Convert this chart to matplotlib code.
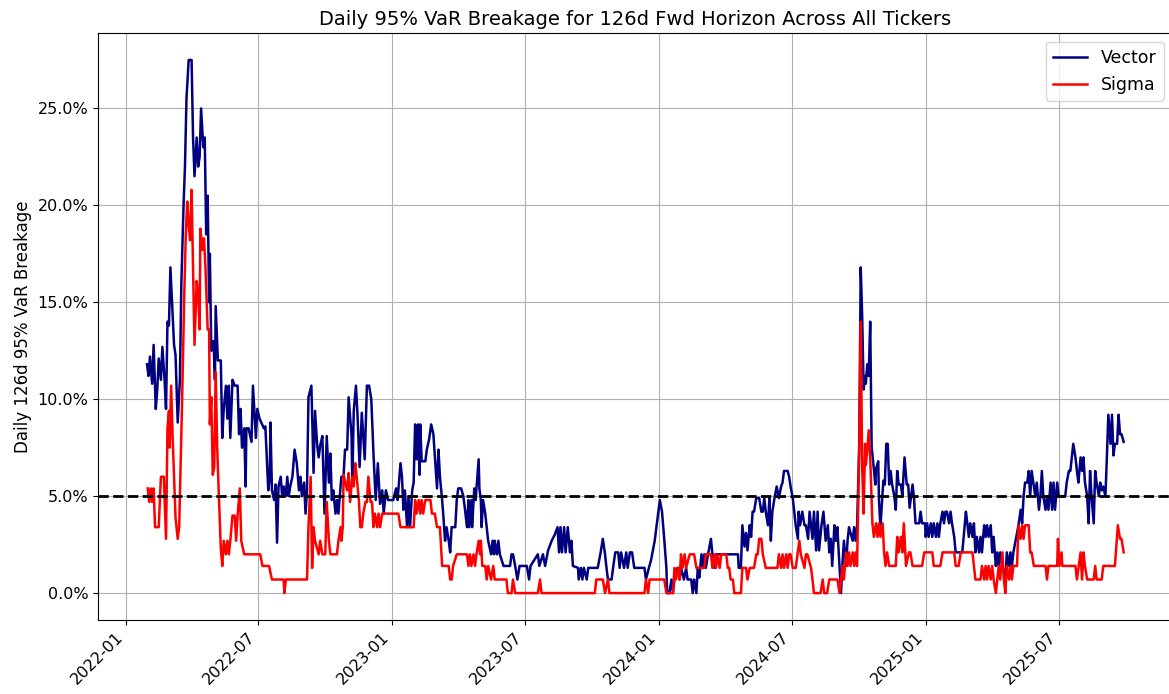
import matplotlib.pyplot as plt
import matplotlib.dates as mdates
from matplotlib.ticker import PercentFormatter
import pandas as pd

# x data: days since 2022-01-01, y data: breakage rate in %
vector_days = [
    29, 31, 33, 36, 38, 41, 43, 45, 48, 50, 53, 55, 57, 59, 61, 66, 68, 71, 74, 76,
    79, 81, 83, 86, 90, 92, 94, 97, 99, 101, 103, 106, 108, 110, 112, 114, 115, 117, 120, 122,
    123, 126, 130, 132, 134, 137, 139, 141, 143, 146, 149, 153, 155, 157, 159, 162, 164, 165, 168, 172,
    174, 178, 180, 183, 189, 191,
    195, 197, 198, 200, 203, 205, 207, 209, 212, 214, 216, 219, 221, 223, 225, 228, 231, 234, 237, 239,
    241, 244, 246, 248, 250, 254, 257, 259, 262, 264, 266, 269, 272, 275, 278, 280, 282, 284, 287, 289,
    291, 295, 298, 300, 303, 305, 309, 310, 312, 315, 317, 320, 323, 327, 330, 333, 336, 339, 342, 345,
    348, 351, 353, 356, 359, 366, 370, 372, 376, 378, 380, 382, 385, 387,
    389, 392, 394, 396, 398, 400, 402, 403, 405, 410, 412, 415, 418, 421, 424, 426, 428, 430, 433, 435,
    437, 439, 442, 444, 446, 451, 453, 455, 459, 462, 464, 467, 469, 470, 473, 474, 477, 479, 480, 483,
    484, 486, 487, 489, 492, 494, 496, 500, 502, 504, 505, 508, 510, 512, 517, 526, 528, 530, 533, 536,
    539, 549, 552, 554, 564, 566, 571, 574,
    578, 583, 587, 591, 593, 595, 597, 600, 602, 605, 608, 610, 612, 619, 620, 623, 625, 627, 631, 633,
    646, 650, 653, 656, 658, 660, 665, 667, 670, 674, 676, 678, 682, 685, 687, 690, 693, 696, 710, 712,
    716, 719, 724, 728, 731, 734, 737, 740, 741, 744, 747, 749, 751, 755, 758, 760, 764, 767, 769, 774,
    776, 778, 781, 783, 785, 788, 790, 792, 794, 797, 801, 803, 806, 808, 838, 839, 842, 844, 847, 849,
    851, 854, 856, 858, 860, 863, 867, 870, 872, 874, 876, 879, 881, 883, 885, 888, 891, 894, 897, 899,
    901, 906, 908, 910, 913, 915, 917, 920, 921, 923, 926, 929, 931, 934, 936, 938, 940, 942, 945, 947,
    949, 952, 955, 958, 961, 963, 965, 967, 970,
    972, 974, 977, 979, 981, 983, 986, 988, 990, 995, 997, 999, 1001, 1004, 1006, 1008, 1010, 1012, 1013, 1015,
    1017, 1019, 1021, 1023, 1026, 1027, 1030, 1031, 1033, 1035, 1037, 1039, 1041, 1043, 1045, 1047, 1049, 1052, 1054, 1056,
    1058, 1061, 1063, 1066, 1069, 1071, 1073, 1075, 1077, 1079, 1081, 1086, 1088, 1090, 1094, 1095, 1097, 1099, 1102, 1104,
    1106, 1109, 1111, 1113, 1115, 1118, 1120, 1122, 1124, 1127, 1129, 1131, 1134, 1136, 1145, 1147, 1150, 1152, 1154, 1156,
    1159, 1161, 1163, 1165, 1168, 1170,
    1172, 1175, 1177, 1179, 1181, 1184, 1186, 1188, 1191, 1193, 1195, 1197, 1200, 1202, 1204, 1206, 1209, 1211, 1213, 1215,
    1218, 1220, 1222, 1225, 1227, 1229, 1231, 1234, 1236, 1238, 1240, 1243, 1245, 1247, 1250, 1252, 1254, 1256, 1259, 1261,
    1263, 1266, 1268, 1270, 1272, 1275, 1277, 1286, 1288, 1291, 1293, 1295, 1297, 1300, 1302, 1304, 1307, 1309, 1311, 1313,
    1316, 1318, 1320, 1322, 1325, 1327, 1329, 1332, 1334, 1336, 1338, 1341, 1343, 1345, 1348, 1350, 1352, 1354, 1357, 1359,
    1361, 1363, 1366,
]
vector_pct = [
    11.8, 11.2, 12.2, 10.8, 12.8, 9.5, 10.5, 12.1, 11.0, 12.7, 11.0, 9.5, 14.0, 13.8, 16.8, 12.8, 12.3, 8.8, 11.0, 16.0,
    20.0, 22.1, 25.5, 27.5, 27.5, 23.5, 21.5, 23.5, 22.0, 22.5, 25.0, 23.0, 23.5, 18.5, 20.5, 15.0, 17.5, 12.5, 13.0, 11.0,
    14.8, 12.0, 12.0, 8.0, 9.5, 10.7, 9.0, 10.7, 8.0, 11.0, 10.7, 10.7, 8.2, 9.5, 7.5, 8.5, 5.5, 8.5, 8.5, 7.8,
    10.7, 8.0, 9.5, 9.0, 8.5, 8.6,
    5.3, 6.0, 8.8, 5.3, 4.8, 5.6, 2.6, 5.5, 6.0, 5.0, 5.5, 5.0, 6.0, 5.0, 5.5, 6.0, 7.4, 6.7, 5.3, 6.0,
    5.0, 5.7, 4.1, 5.3, 10.1, 10.7, 6.2, 9.4, 7.6, 7.0, 7.6, 8.1, 4.1, 8.1, 5.7, 7.2, 4.8, 5.3, 4.1, 4.8,
    4.1, 6.0, 6.0, 7.4, 7.4, 10.1, 8.1, 5.7, 9.4, 10.7, 9.3, 6.5, 9.3, 6.9, 10.7, 10.7, 10.0, 7.2, 4.8, 6.7,
    4.6, 5.3, 4.1, 5.3, 4.8, 4.8, 5.4, 4.8, 6.7, 6.0, 4.3, 5.3, 3.4, 5.0,
    3.4, 5.3, 5.7, 8.7, 6.9, 8.7, 6.1, 8.7, 6.8, 6.8, 7.4, 7.9, 8.7, 8.2, 6.5, 5.4, 7.4, 6.0, 4.8, 3.8,
    2.7, 3.4, 2.7, 2.1, 3.4, 3.4, 4.8, 5.4, 5.4, 5.0, 4.4, 3.4, 4.8, 3.4, 4.8, 3.4, 5.4, 4.8, 5.4, 6.9,
    5.4, 4.8, 3.4, 4.8, 4.1, 3.4, 2.7, 2.0, 2.7, 2.0, 2.7, 2.0, 2.7, 2.0, 1.4, 1.4, 2.0, 2.0, 1.4, 0.7,
    1.4, 1.4, 0.7, 1.4, 2.0, 1.4, 2.0, 1.4,
    2.2, 2.7, 3.0, 3.4, 2.1, 3.4, 2.1, 3.4, 2.1, 3.4, 2.1, 2.7, 1.4, 1.3, 0.7, 1.3, 0.7, 1.3, 0.7, 1.3,
    1.3, 2.1, 2.8, 2.0, 1.3, 0.7, 0.7, 1.3, 2.1, 2.1, 1.3, 2.1, 1.3, 2.1, 1.3, 2.1, 2.1, 1.3, 1.3, 0.7,
    1.3, 1.7, 2.7, 3.9, 4.8, 4.2, 2.8, 1.3, 0.0, 0.0, 0.7, 0.0, 0.7, 1.3, 0.7, 1.3, 0.7, 1.3, 0.7, 0.7,
    0.0, 0.7, 0.0, 1.3, 0.8, 2.0, 1.3, 2.0, 1.3, 2.0, 2.8, 2.0, 1.3, 2.0, 2.0, 1.3, 1.3, 3.5, 2.4, 3.1,
    2.2, 3.5, 2.9, 4.2, 4.2, 4.9, 4.9, 4.2, 4.2, 4.9, 4.2, 3.5, 4.9, 2.7, 4.2, 4.9, 5.5, 4.9, 5.5, 5.7,
    6.3, 6.3, 6.0, 5.5, 4.9, 4.2, 3.5, 2.8, 4.2, 3.5, 4.2, 3.5, 3.5, 2.8, 4.2, 3.5, 2.8, 4.2, 2.2, 4.2,
    2.2, 3.4, 4.2, 2.7, 3.5, 2.1, 2.8, 1.4, 3.5,
    2.7, 3.4, 1.4, 0.0, 1.5, 2.7, 1.4, 2.7, 3.4, 2.7, 3.4, 2.7, 3.4, 7.7, 16.8, 14.3, 10.5, 11.2, 10.8, 11.8,
    11.2, 14.0, 7.5, 6.8, 5.6, 6.4, 6.8, 4.8, 3.4, 4.6, 5.8, 5.6, 7.7, 7.7, 5.6, 6.3, 5.6, 5.0, 4.3, 6.3,
    5.6, 5.6, 5.0, 7.0, 5.6, 5.6, 4.4, 5.0, 5.6, 4.9, 3.6, 3.6, 4.2, 3.6, 3.6, 2.9, 3.6, 2.9, 3.6, 2.9,
    3.6, 2.9, 3.6, 2.9, 3.6, 4.2, 3.6, 4.2, 4.2, 3.6, 4.2, 3.6, 2.9, 2.1, 2.1, 2.9, 4.2, 3.6, 2.9, 3.6,
    2.9, 3.6, 2.1, 2.9, 2.1, 2.9,
    2.1, 3.5, 2.9, 3.5, 2.9, 3.5, 2.1, 2.9, 1.4, 2.1, 1.4, 2.1, 1.4, 1.1, 0.5, 2.1, 1.4, 2.1, 1.4, 2.1,
    2.7, 3.1, 3.5, 4.3, 3.6, 5.0, 5.7, 5.7, 6.3, 5.0, 6.3, 5.5, 5.0, 5.7, 4.3, 5.0, 6.3, 5.0, 4.3, 5.0,
    4.3, 5.7, 4.3, 5.7, 4.3, 5.7, 5.0, 5.0, 5.7, 6.3, 6.3, 7.0, 7.7, 7.0, 6.3, 5.7, 7.0, 6.3, 7.0, 5.7,
    5.0, 3.6, 6.3, 5.0, 3.6, 6.3, 5.7, 5.0, 5.7, 5.3, 5.5, 5.0, 7.0, 9.2, 7.7, 9.2, 7.1, 7.7, 7.7, 9.2,
    8.2, 8.2, 7.8,
]

sigma_days = [
    30, 32, 34, 36, 38, 40, 45, 48, 52, 55, 57, 59, 60, 62, 64, 66, 68, 71, 73, 75,
    77, 80, 82, 84, 86, 88, 90, 92, 94, 97, 99, 101, 102, 105, 107, 109, 112, 114, 115, 117,
    119, 121, 123, 125, 127, 130, 132, 134, 137, 139, 141, 143, 146, 149, 151, 153, 156, 158, 162, 184,
    187, 196,
    200, 216, 217, 219, 248, 250, 253, 255, 257, 259, 264, 266, 269, 273, 275, 278, 280, 289, 291, 294,
    295, 297, 298, 303, 305, 307, 310, 312, 314, 316, 319, 321, 323, 325, 328, 330, 332, 335, 337, 339,
    341, 344, 346, 348, 351, 373, 376,
    394, 396, 398, 401, 403, 405, 407, 410, 417, 419, 423, 426, 430, 433, 442, 444, 446, 448, 453, 467,
    469, 471, 473, 476, 478, 480, 483, 485, 486, 488, 492, 494, 496, 500, 503, 505, 521, 523, 528, 530,
    533, 564, 567, 569,
    642, 644, 653, 656, 660, 662, 710, 712, 715, 717, 737, 740, 749, 751, 753, 756, 758, 760, 762, 765,
    767, 772,
    778, 781, 792, 794, 801, 803, 806, 808, 810, 813, 815, 822, 824, 826, 828, 831, 833, 842, 844, 849,
    851, 854, 860, 863, 865, 867, 870, 872, 876, 892, 894, 897, 899, 901, 904, 906, 908, 910, 913, 917,
    922, 924, 929, 931, 933, 938, 940, 942, 951, 954, 956, 960, 963, 974,
    977, 979, 981, 983, 986, 988, 990, 992, 995, 997, 999, 1001, 1004, 1006, 1008, 1010, 1012, 1013, 1015, 1017,
    1019, 1022, 1024, 1027, 1029, 1031, 1033, 1036, 1038, 1040, 1042, 1045, 1054, 1056, 1058, 1061, 1063, 1065, 1068, 1072,
    1074, 1077, 1090, 1093, 1104, 1106, 1115, 1118, 1134, 1136, 1140, 1143, 1159, 1161, 1163, 1170,
    1172, 1175, 1177, 1179, 1181, 1184, 1186, 1188, 1191, 1193, 1195, 1197, 1200, 1202, 1204, 1206, 1209, 1211, 1213, 1215,
    1220, 1222, 1225, 1227, 1229, 1231, 1236, 1238, 1240, 1243, 1259, 1261, 1263, 1275, 1276, 1278, 1281, 1282, 1300, 1302,
    1307, 1309, 1311, 1313, 1316, 1325, 1327, 1329, 1336, 1338, 1354, 1358, 1361, 1363, 1366,
]
sigma_pct = [
    5.4, 4.7, 5.4, 4.7, 5.4, 3.4, 3.4, 6.0, 6.0, 2.8, 8.5, 9.4, 7.5, 10.7, 8.1, 6.0, 3.9, 2.8, 3.4, 6.7,
    9.9, 15.4, 18.4, 20.2, 19.0, 18.2, 20.8, 16.8, 12.8, 16.1, 15.4, 13.6, 18.8, 17.7, 18.3, 16.8, 13.6, 13.6, 8.7, 10.1,
    6.1, 6.5, 11.4, 7.6, 5.4, 2.3, 1.4, 2.7, 2.0, 2.7, 2.0, 2.7, 4.0, 4.0, 2.7, 4.0, 5.4, 2.7, 2.0, 2.0,
    1.4, 1.4,
    0.7, 0.7, 0.0, 0.7, 0.7, 3.4, 6.0, 1.3, 3.4, 2.7, 2.0, 2.7, 2.0, 2.0, 4.7, 2.7, 2.0, 2.0, 2.7, 3.4,
    2.7, 3.4, 6.1, 5.3, 6.2, 4.7, 6.0, 5.5, 6.7, 6.0, 4.8, 3.4, 3.4, 4.1, 4.7, 4.7, 6.0, 4.7, 4.7, 3.4,
    4.1, 3.4, 4.1, 3.4, 4.1, 4.1, 3.4,
    3.4, 4.8, 4.1, 4.8, 4.1, 4.8, 4.1, 4.8, 4.8, 4.1, 4.1, 3.4, 3.4, 1.4, 1.4, 0.7, 0.7, 1.4, 2.0, 2.0,
    1.4, 2.0, 1.4, 2.0, 1.4, 2.0, 2.7, 2.0, 2.7, 1.4, 1.4, 0.7, 1.4, 0.7, 1.4, 0.7, 0.7, 0.0, 0.0, 0.7,
    0.0, 0.0, 0.7, 0.0,
    0.0, 0.7, 0.7, 0.0, 0.7, 0.0, 0.0, 0.7, 0.0, 0.7, 0.7, 0.0, 0.0, 1.3, 0.7, 1.3, 0.7, 2.0, 1.3, 2.0,
    1.3, 2.0,
    2.0, 1.3, 1.3, 2.0, 2.0, 1.3, 2.0, 1.3, 2.0, 1.3, 2.0, 2.0, 1.3, 1.3, 0.7, 0.7, 0.0, 0.0, 1.3, 1.3,
    0.7, 1.3, 1.3, 2.0, 2.0, 2.8, 2.8, 2.0, 1.3, 1.3, 2.0, 1.3, 2.0, 1.3, 2.0, 1.3, 2.0, 2.0, 1.3, 1.3,
    2.7, 2.0, 1.3, 2.0, 2.0, 1.3, 0.7, 0.0, 0.0, 0.7, 0.0, 0.0, 0.7, 0.7,
    0.0, 0.7, 1.4, 0.7, 2.1, 1.4, 2.1, 1.4, 2.1, 1.4, 2.1, 1.4, 7.4, 14.0, 6.5, 4.1, 7.7, 6.6, 7.4, 8.4,
    7.0, 3.6, 2.9, 3.6, 2.9, 3.6, 2.9, 3.6, 2.1, 1.4, 2.1, 1.4, 1.4, 2.9, 2.1, 2.9, 2.1, 3.6, 1.4, 2.1,
    2.1, 1.4, 1.4, 2.1, 2.1, 1.4, 1.4, 2.1, 2.1, 1.4, 1.4, 2.1, 2.1, 1.4, 0.7, 0.7,
    1.4, 0.7, 1.4, 0.7, 1.4, 0.7, 1.4, 0.7, 0.0, 0.7, 1.4, 0.7, 2.1, 0.7, 0.0, 1.4, 0.7, 1.4, 0.7, 1.4,
    1.4, 3.5, 2.8, 3.5, 2.8, 3.5, 3.5, 2.1, 2.1, 1.4, 1.4, 0.7, 1.4, 1.4, 2.8, 1.4, 2.1, 1.4, 1.4, 0.7,
    2.1, 0.7, 2.1, 1.4, 0.7, 0.7, 1.4, 0.7, 0.7, 1.4, 1.4, 3.5, 2.8, 2.8, 2.1,
]

start = pd.Timestamp('2022-01-01')
vector_dates = start + pd.to_timedelta(vector_days, unit='D')
sigma_dates = start + pd.to_timedelta(sigma_days, unit='D')

fig, ax = plt.subplots(figsize=(11.69, 6.94), dpi=100)
# the reference is cropped slightly on the right, so the axes run past the edge
fig.subplots_adjust(left=0.084, right=1.003, top=0.952, bottom=0.107)

ax.plot(vector_dates, vector_pct, color='navy', lw=1.8, label='Vector')
ax.plot(sigma_dates, sigma_pct, color='red', lw=1.8, label='Sigma')
ax.axhline(5, color='black', ls='--', lw=2)

ax.yaxis.set_major_formatter(PercentFormatter(100, decimals=1))
ax.xaxis.set_major_locator(mdates.MonthLocator(bymonth=[1, 7]))
ax.xaxis.set_major_formatter(mdates.DateFormatter('%Y-%m'))
plt.setp(ax.get_xticklabels(), rotation=45, ha='right')

ax.set_title('Daily 95% VaR Breakage for 126d Fwd Horizon Across All Tickers', fontsize=14)
ax.set_ylabel('Daily 126d 95% VaR Breakage', fontsize=12)
ax.tick_params(labelsize=11.5)
ax.legend(loc='upper right', fontsize=12.5)
ax.grid(True)

fig.savefig('out.png')
